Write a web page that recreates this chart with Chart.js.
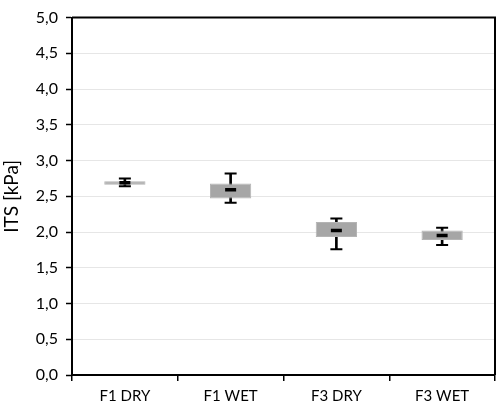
<!DOCTYPE html>
<html>
<head>
<meta charset="utf-8">
<script src="https://cdn.jsdelivr.net/npm/chart.js@4"></script>
<style>
  html, body { margin: 0; padding: 0; background: #fff; }
  #wrap { width: 504px; height: 414px; }
</style>
</head>
<body>
<div id="wrap"><canvas id="itsChart" width="504" height="414"></canvas></div>
<script>
// Categorías y valores del diagrama de caja (ITS en kPa)
const categorias = ['F1 DRY', 'F1 WET', 'F3 DRY', 'F3 WET'];
const minimos  = [2.64, 2.41, 1.76, 1.82];
const cuartil1 = [2.66, 2.47, 1.93, 1.89];
const medianas = [2.69, 2.59, 2.02, 1.95];
const cuartil3 = [2.71, 2.68, 2.14, 2.02];
const maximos  = [2.75, 2.82, 2.19, 2.06];
const ticksY = [0, 0.5, 1, 1.5, 2, 2.5, 3, 3.5, 4, 4.5, 5];

Chart.defaults.font.family = "Lato, 'Liberation Sans', sans-serif";
Chart.defaults.font.size = 15;
Chart.defaults.color = '#000';

// marco superior y derecho del área del gráfico
const marco = {
    id: 'marco',
    afterDraw(chart) {
        const a = chart.chartArea;
        const ctx = chart.ctx;
        ctx.save();
        ctx.strokeStyle = '#000';
        ctx.lineWidth = 2;
        ctx.beginPath();
        ctx.moveTo(a.left, a.top);
        ctx.lineTo(a.right, a.top);
        ctx.lineTo(a.right, a.bottom);
        ctx.stroke();
        ctx.restore();
    }
};

const ctx = document.getElementById('itsChart').getContext('2d');
const itsChart = new Chart(ctx, {
    type: 'bar',
    data: {
        labels: categorias,
        datasets: [
            {
                type: 'line',
                label: 'Mediana',
                data: medianas,
                showLine: false,
                pointStyle: 'line',
                pointRadius: 5.5,
                pointBorderWidth: 3.5,
                borderColor: '#000',
                backgroundColor: '#000'
            },
            {
                type: 'line',
                label: 'Máximo',
                data: maximos,
                showLine: false,
                pointStyle: 'line',
                pointRadius: 6,
                pointBorderWidth: 2,
                borderColor: '#000'
            },
            {
                type: 'line',
                label: 'Mínimo',
                data: minimos,
                showLine: false,
                pointStyle: 'line',
                pointRadius: 6,
                pointBorderWidth: 2,
                borderColor: '#000'
            },
            {
                label: 'Caja',
                data: categorias.map((c, i) => [cuartil1[i], cuartil3[i]]),
                backgroundColor: '#a6a6a6',
                borderColor: '#b4b4b4',
                borderWidth: 1,
                borderSkipped: false,
                grouped: false,
                barPercentage: 0.39,
                categoryPercentage: 1
            },
            {
                label: 'Bigote',
                data: categorias.map((c, i) => [minimos[i], maximos[i]]),
                backgroundColor: '#000',
                borderWidth: 0,
                grouped: false,
                barThickness: 2
            }
        ]
    },
    plugins: [marco],
    options: {
        responsive: false,
        animation: false,
        layout: { padding: { top: 7, right: 3, left: 0, bottom: 0 } },
        plugins: {
            legend: { display: false },
            tooltip: { enabled: false }
        },
        scales: {
            x: {
                offset: true,
                grid: {
                    offset: true,
                    drawOnChartArea: false,
                    drawTicks: true,
                    tickLength: 6,
                    color: '#000',
                    lineWidth: 1.5
                },
                border: { color: '#000', width: 2 },
                ticks: { padding: 6 },
                afterFit(scale) { scale.height = 39; }
            },
            y: {
                min: 0,
                max: 5,
                afterBuildTicks(scale) {
                    scale.ticks = ticksY.map(v => ({ value: v }));
                },
                grid: {
                    color: '#e6e6e6',
                    lineWidth: 1,
                    tickLength: 6,
                    tickColor: '#000',
                    tickWidth: 1.5
                },
                border: { color: '#000', width: 2 },
                ticks: {
                    padding: 8,
                    font: { size: 16 },
                    callback: v => v.toFixed(1).replace('.', ',')
                },
                title: {
                    display: true,
                    text: 'ITS [kPa]',
                    padding: { top: 0, bottom: 2 },
                    font: { size: 19 }
                },
                afterFit(scale) { scale.width = 72; }
            }
        }
    }
});
</script>
</body>
</html>
